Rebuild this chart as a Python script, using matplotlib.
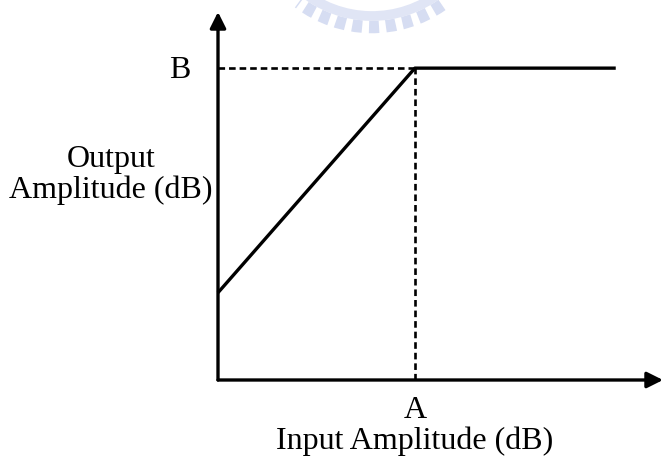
import matplotlib.pyplot as plt
from matplotlib.patches import Arc

# Datos (unidades arbitrarias en dB)
entrada = [0, 10, 20.2]       # entrada: origen, A, fin
salida = [2.8, 10, 10]        # salida: inicio, B, B
A = 10
B = 10
x_max = 22.6
y_max = 11.8

plt.rcParams['font.family'] = ['Liberation Serif', 'DejaVu Serif']

fig = plt.figure(figsize=(6.63, 4.59), dpi=100)

# Marca de agua tenue (logo) en la parte superior
fondo = fig.add_axes([0, 0, 1, 1])
fondo.set_xlim(0, 663)
fondo.set_ylim(459, 0)
fondo.axis('off')
fondo.add_patch(Arc((372, -95), 244, 244, theta1=55, theta2=127, color='#d6ddf2',
                    lw=9, ls=(0, (0.8, 0.55))))
fondo.add_patch(Arc((372, -95), 222, 222, theta1=52, theta2=130, color='#e0e5f5', lw=7))

ax = fig.add_axes([218 / 663, 79 / 459, 445 / 663, 368 / 459])
ax.set_xlim(0, x_max)
ax.set_ylim(0, y_max)
ax.axis('off')

# Ejes con flecha
flecha = dict(arrowstyle='-|>', lw=2.4, color='black', mutation_scale=24, shrinkA=0, shrinkB=0)
ax.annotate('', xy=(x_max, 0), xytext=(0, 0), arrowprops=flecha, annotation_clip=False)
ax.annotate('', xy=(0, y_max), xytext=(0, 0), arrowprops=flecha, annotation_clip=False)

# Curva de compresión
ax.plot(entrada, salida, color='black', lw=2.4, solid_capstyle='butt', clip_on=False)

# Líneas punteadas
ax.plot([0, A], [B, B], color='black', lw=1.9, ls=(0, (2.5, 1.5)), clip_on=False)
ax.plot([A, A], [0, B], color='black', lw=1.9, ls=(0, (2.5, 1.5)), clip_on=False)

# Etiquetas
fs = 23
fig.text(180 / 663, 1 - 70 / 459, 'B', fontsize=fs, ha='center', va='center')
fig.text(415 / 663, 1 - 411 / 459, 'A', fontsize=fs, ha='center', va='center')
fig.text(415 / 663, 1 - 441 / 459, 'Input Amplitude (dB)', fontsize=fs, ha='center', va='center')
fig.text(111 / 663, 1 - 175 / 459, 'Output\nAmplitude (dB)', fontsize=fs, ha='center', va='center',
         linespacing=1.05)

fig.savefig('out.png', dpi=100)
